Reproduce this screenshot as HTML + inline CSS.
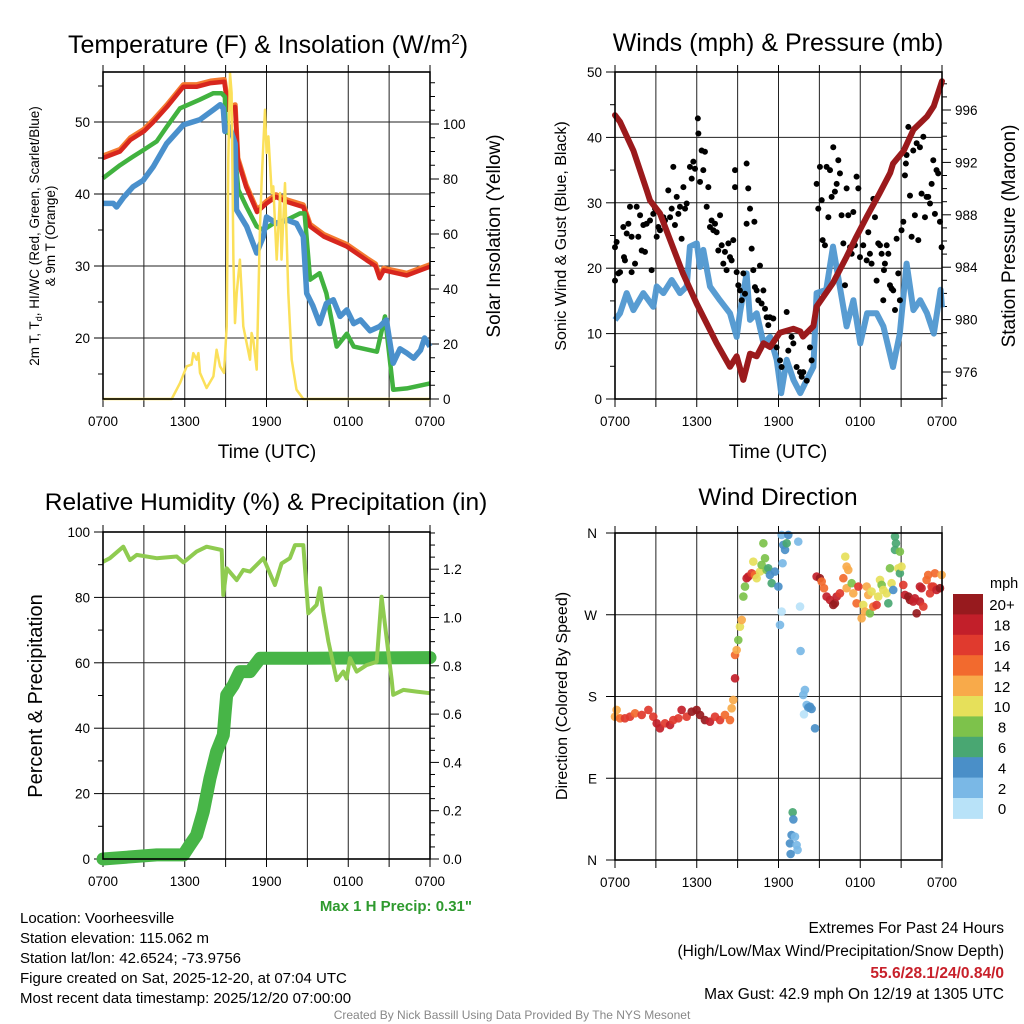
<!DOCTYPE html>
<html><head><meta charset="utf-8"><style>
html,body{margin:0;padding:0;background:#fff;}
svg{display:block;font-family:"Liberation Sans",Arial,sans-serif;}
</style></head><body>
<svg id="fig" width="1024" height="1024" viewBox="0 0 1024 1024" xmlns="http://www.w3.org/2000/svg">
<rect width="1024" height="1024" fill="#fff"/>
<g id="g1"></g>
<g id="g2"></g>
<g id="g3"></g>
<g id="g4"></g>
<text x="268" y="53" font-size="25" text-anchor="middle">Temperature (F) &amp; Insolation (W/m<tspan dy="-9" font-size="15">2</tspan><tspan dy="9">)</tspan></text>
<text x="778" y="51" font-size="25" text-anchor="middle">Winds (mph) &amp; Pressure (mb)</text>
<text x="266" y="510" font-size="24.5" text-anchor="middle">Relative Humidity (%) &amp; Precipitation (in)</text>
<text x="778" y="505" font-size="24.5" text-anchor="middle">Wind Direction</text>
<text x="267" y="458" font-size="19" text-anchor="middle">Time (UTC)</text>
<text x="778" y="458" font-size="19" text-anchor="middle">Time (UTC)</text>
<text transform="translate(39,236) rotate(-90)" font-size="13.5" text-anchor="middle">2m T, T<tspan font-size="9" dy="3">d</tspan><tspan dy="-3">, HI/WC (Red, Green, Scarlet/Blue)</tspan></text>
<text transform="translate(55,236) rotate(-90)" font-size="13.5" text-anchor="middle">&amp; 9m T (Orange)</text>
<text transform="translate(500,236) rotate(-90)" font-size="19" text-anchor="middle">Solar Insolation (Yellow)</text>
<text transform="translate(566,236) rotate(-90)" font-size="16" text-anchor="middle">Sonic Wind &amp; Gust (Blue, Black)</text>
<text transform="translate(1015,236) rotate(-90)" font-size="19" text-anchor="middle">Station Pressure (Maroon)</text>
<text transform="translate(42,696) rotate(-90)" font-size="20" text-anchor="middle">Percent &amp; Precipitation</text>
<text transform="translate(567,696) rotate(-90)" font-size="16" text-anchor="middle">Direction (Colored By Speed)</text>
<text x="472" y="911" font-size="15" font-weight="bold" fill="#2e9a2e" text-anchor="end">Max 1 H Precip: 0.31"</text>
<g font-size="15">
<text x="20" y="923">Location: Voorheesville</text>
<text x="20" y="943">Station elevation: 115.062 m</text>
<text x="20" y="963">Station lat/lon: 42.6524; -73.9756</text>
<text x="20" y="983">Figure created on Sat, 2025-12-20, at 07:04 UTC</text>
<text x="20" y="1003">Most recent data timestamp: 2025/12/20 07:00:00</text>
</g>
<g font-size="15.5" text-anchor="end">
<text x="1004" y="933">Extremes For Past 24 Hours</text>
<text x="1004" y="956">(High/Low/Max Wind/Precipitation/Snow Depth)</text>
<text x="1004" y="978" fill="#c8202a" font-weight="bold">55.6/28.1/24/0.84/0</text>
<text x="1004" y="999">Max Gust: 42.9 mph On 12/19 at 1305 UTC</text>
</g>
<text x="512" y="1019" font-size="12" fill="#888" text-anchor="middle">Created By Nick Bassill Using Data Provided By The NYS Mesonet</text>
</svg>
<script>
// ---------- data (hours since 0700 UTC) ----------
const timeLabels = ["0700","1300","1900","0100","0700"];
const tempH = [0,1.25,2,3,3.7,4.7,5.9,6.9,7.9,8.9,9.2,9.7,9.9,10.5,11.3,12,12.7,13.5,14.7,15.2,16.2,17.9,19.35,20.0,20.3,20.6,22.3,24];
const tempT = [45,45.9,47.5,48.7,50,52.1,54.9,54.9,55.4,55.6,51.7,52.1,44.7,41,37.5,38.7,39.6,38.9,38.2,35.5,34.1,32.7,30.8,30.0,28.3,29.4,28.7,29.9];
const dewH = [0,1.25,2.2,2.96,3.94,4.67,5.65,7.1,8.1,8.7,8.95,9.0,9.57,9.93,10.54,11.28,11.77,12.5,13.5,14.46,14.8,15.2,15.9,16.4,17.15,17.9,18.4,20.1,20.7,21.3,22.3,24];
const dewT = [42.2,44.0,45.2,46.1,47.3,49.3,51.9,53.1,54.0,54.0,53.5,48.7,48.0,40.6,38.2,35.5,35.0,35.9,36.4,37.3,37.3,28.1,29.0,26.2,18.8,20.6,18.8,18.1,23.0,12.8,13.0,13.7];
const wcH = [0,0.76,1.0,1.5,2.2,2.96,3.69,4.67,5.9,7.1,8.1,8.6,8.83,8.95,9.3,9.7,9.8,10.54,11.28,11.77,12.0,12.75,13.5,14.2,14.7,14.95,15.4,15.9,16.4,16.9,17.4,17.9,18.4,18.9,19.6,20.3,20.8,21.3,21.8,22.3,22.8,23.3,23.6,24];
const wcT = [38.7,38.7,38.2,39.5,41.0,41.9,43.8,47.0,49.6,50.3,51.7,52.4,51.9,48.7,49.3,47.0,37.8,35.5,31.8,34.1,36.8,35.9,36.4,35.9,34.1,26.2,24.5,22.0,24.8,25.3,23.0,23.9,22.0,22.5,21.0,21.6,22.5,16.5,18.5,17.9,17.2,18.3,20.0,18.8];
const solH = [0,5.04,5.65,6.14,6.5,6.63,6.87,7.0,7.12,7.6,8.1,8.34,8.59,8.88,9.08,9.2,9.32,9.44,9.57,9.69,9.81,9.93,10.05,10.18,10.3,10.54,10.79,10.91,11.03,11.28,11.52,11.65,11.77,11.89,12.01,12.14,12.38,12.5,12.75,13.0,13.1,13.36,13.6,13.85,14.2,14.7,24];
const solV = [0,0,5.8,11.9,12.5,16.7,14.3,16.7,9.5,4.0,8.2,17.9,11.9,9.5,26.4,87.0,118.5,111.3,50.7,27.6,38.5,44.6,50.7,38.5,26.4,20.4,14.3,24.0,21.6,10.7,62.8,79.8,93.1,105.2,89.5,95.5,74.9,77.3,50.7,74.9,50.7,78.5,38.5,14.3,3.4,0,0];
const presH = [0,0.37,1.35,2.32,2.57,3.3,4.04,5.0,6.0,6.73,7.46,8.44,8.93,9.42,9.91,10.4,10.9,11.38,12.1,13.1,13.6,13.8,14.56,14.8,16.0,17.0,17.7,18.5,19.4,20.2,20.4,21.2,21.9,22.9,23.4,24];
const presP = [995.6,995.1,992.9,989.9,989.1,988.1,986.1,983.5,981.2,979.7,978.2,976.4,977.2,975.4,977.4,977.2,978.2,977.9,979.0,979.3,979.1,978.7,979.5,981.0,982.8,984.8,986.3,987.9,989.6,991.2,991.9,992.9,994.5,995.5,996.3,998.2];
const windH = [0,0.37,0.86,1.35,2.08,2.81,3.06,3.55,4.16,4.77,5.26,5.5,6.0,6.24,6.48,6.97,7.7,8.44,8.93,9.17,9.66,9.91,10.4,10.9,11.38,11.87,12.2,12.6,13.1,13.6,14.07,14.56,14.8,15.5,16.0,16.5,17.0,17.5,18.0,18.5,19.2,19.7,20.4,20.9,21.4,21.9,22.4,22.9,23.4,23.9,24];
const windV = [12.1,13.1,16.2,13.6,16.2,14.1,17.2,16.2,18.2,16.2,17.2,23.3,23.8,20.2,22.8,17.2,15.1,13.1,9.5,13.1,19.2,12.1,13.1,8.5,9.5,6.0,0.9,6.0,2.9,0.9,2.9,4.9,16.2,16.7,23.3,17.2,11.1,15.1,8.5,13.1,13.1,11.1,4.9,10.0,20.7,13.6,15.1,13.1,10.0,16.7,14.0];
const gustH = [0,0,0.12,0.25,0.37,0.61,0.66,0.73,0.86,0.98,1.1,1.22,1.22,1.47,1.59,1.71,1.84,1.96,2.08,2.2,2.32,2.57,2.69,2.81,2.94,3.06,3.18,3.3,3.55,3.67,3.91,4.04,4.16,4.28,4.4,4.53,4.65,4.77,4.89,5.02,5.14,5.26,5.5,5.63,5.75,5.87,6.08,6.12,6.24,6.36,6.48,6.6,6.73,6.85,6.97,7.09,7.22,7.34,7.46,7.58,7.71,7.83,7.95,8.07,8.19,8.32,8.44,8.56,8.68,8.81,8.81,8.93,9.05,9.17,9.3,9.42,9.54,9.66,9.66,9.78,9.91,10.03,10.15,10.23,10.27,10.4,10.52,10.64,10.76,10.89,11.01,11.13,11.25,11.37,11.62,11.86,12.11,12.23,12.6,12.72,12.96,13.09,13.33,13.58,13.7,13.82,14.07,14.31,14.43,14.8,14.92,15.04,15.17,15.24,15.41,15.53,15.66,15.78,15.9,16.02,16.14,16.27,16.39,16.51,16.63,16.76,16.88,17.0,17.12,17.25,17.37,17.49,17.61,17.73,17.86,17.98,18.22,18.47,18.59,18.71,18.83,18.96,19.08,19.2,19.32,19.45,19.57,19.69,19.74,19.81,19.94,20.06,20.18,20.3,20.42,20.55,20.67,20.79,20.91,21.03,21.16,21.28,21.35,21.4,21.53,21.65,21.77,21.89,22.01,22.14,22.26,22.38,22.5,22.63,22.75,22.87,22.99,23.12,23.24,23.36,23.48,23.6,23.72,23.85,23.97];
const gustV = [23.2,18.1,24.0,19.2,19.4,26.3,21.7,21.2,25.3,26.8,29.4,24.8,19.4,20.7,29.4,24.8,28.1,22.7,26.6,22.5,26.8,27.3,19.7,28.3,29.1,24.8,26.3,25.8,27.8,27.3,31.9,27.8,29.1,35.5,26.6,30.9,28.3,29.4,24.5,32.4,29.1,29.9,35.5,33.7,36.3,35.2,42.9,40.6,33.2,38.0,35.0,37.8,29.4,32.4,26.3,27.3,25.8,26.8,25.5,22.7,28.1,23.5,20.7,22.5,19.7,23.8,21.7,21.2,24.3,35.0,32.4,19.4,17.4,16.6,15.1,19.2,16.1,26.8,36.0,32.2,29.1,23.0,19.7,27.1,17.1,16.6,15.1,20.4,14.6,16.6,13.8,12.5,11.3,12.5,12.3,7.9,5.9,4.9,13.3,7.4,9.5,8.5,4.9,4.1,3.4,4.1,2.8,7.9,5.9,32.9,29.1,35.5,30.4,24.3,23.5,35.5,27.8,35.0,30.9,38.5,31.7,32.9,36.5,34.5,28.1,23.8,17.4,32.2,28.1,23.2,22.2,28.6,23.5,34.0,32.2,21.7,23.5,21.2,25.5,22.2,20.7,30.6,27.8,18.1,23.8,23.5,22.2,15.1,19.7,20.7,23.5,22.2,17.4,16.9,16.6,13.6,24.5,19.2,15.1,25.8,27.1,34.2,36.0,37.3,41.6,31.1,24.8,38.0,28.1,39.1,24.3,38.5,31.4,40.1,27.8,30.9,30.9,29.9,32.9,36.5,28.3,35.0,34.5,27.1,23.2];
const rhH = [0,0.51,1.49,1.98,2.47,3.94,5.41,5.9,6.87,7.6,8.71,8.83,9.08,9.81,10.3,10.79,11.77,12.62,13.11,13.72,14.09,14.7,15.07,15.68,15.93,16.17,16.54,17.15,17.64,17.88,18.13,18.62,19.35,20.09,20.45,20.7,21.19,21.3,22.04,23.02,24];
const rhV = [90.9,92.0,95.5,91.4,93.0,92.0,92.5,90.7,94.0,95.5,94.5,80.7,88.9,85.3,88.4,87.9,92.0,83.8,90.4,92.0,96.0,96.0,75.1,77.7,82.8,75.6,66.5,54.7,57.3,55.2,61.4,57.3,59.3,60.3,80.2,71.6,54.7,50.2,51.7,51.2,50.7];
const prH = [0,3.94,5.9,6.38,6.87,7.36,7.85,8.34,8.83,8.95,9.08,9.57,10.05,10.79,11.53,14.7,24];
const prV = [0,0.017,0.017,0.058,0.099,0.196,0.334,0.444,0.513,0.596,0.679,0.72,0.776,0.776,0.831,0.831,0.834];
const dirH = [0,0.12,0.37,0.73,1.1,1.47,1.96,2.45,2.81,3.06,3.3,3.67,4.04,4.28,4.65,4.89,5.26,5.63,5.99,6.24,6.6,6.97,7.34,7.71,8.07,8.44,8.56,8.68,8.81,8.81,8.93,9.05,9.17,9.3,9.42,9.54,9.66,9.78,10.03,10.15,10.27,10.4,10.64,10.76,10.89,11.01,11.13,11.25,11.37,11.5,11.74,11.99,12.23,12.35,12.48,12.6,12.72,12.3,12.23,12.11,13.45,13.58,13.62,13.82,13.94,14.07,14.19,14.31,14.43,13.87,14.68,13.04,13.09,12.96,13.21,12.84,13.33,13.4,12.89,14.8,15.04,15.17,15.34,15.53,15.78,16.02,16.14,16.27,16.51,16.76,17.0,16.9,17.0,17.12,17.37,17.49,17.73,17.86,18.22,18.47,18.35,18.1,18.59,18.71,18.83,18.96,19.2,19.32,19.45,19.57,19.69,19.94,20.06,20.18,20.3,20.42,20.55,20.62,20.55,20.91,20.79,20.91,21.03,21.16,21.28,21.53,21.65,21.89,22.14,22.38,22.63,22.5,22.87,22.99,23.12,23.24,23.36,23.48,23.6,23.85,23.97,22.38,22.01];
const dirV = [157.8,165.2,156,156,157.8,161.5,159.7,165.2,157.8,150.5,145,150.5,148.6,154.1,156,165.2,157.8,163.3,165.2,159.7,154.1,152.3,157.8,154.1,159.7,154.1,167,176.2,200,225.7,231.2,242.2,256.9,264.3,290,301,310.2,312,315.7,328.5,313.8,310.2,317.5,324.8,348.7,332.2,319.3,321.2,313.8,304.7,317.5,301,357.9,346.9,341.4,348.7,357.9,326.7,273.5,258.8,350.5,279,230.1,181.7,187.2,170.7,167.7,168.8,166.3,160.4,145,52.5,44.7,27.5,25.7,18.3,16.5,11,6.6,312,310.2,306.5,299.2,290,286.3,280.8,282.6,290,293.6,310.2,299.2,334,323,319.3,304.7,293.6,282.6,301,280.8,301,273.5,266.1,291.8,271.6,295.5,279,280.8,290,308.3,302.8,297.3,293.6,282.6,321.2,304.7,297.3,356.1,348.7,341.4,339.5,321.2,315.7,323,302.8,291.8,290,286.3,284.5,271.6,284.5,279,299.2,308.3,313.8,293.6,301,301,315.7,297.3,299.2,313.8,301,288.1];
const dirS = [12,12,14,16,16,14,16,16,16,18,18,16,18,16,16,18,16,20,20,20,20,18,16,16,14,14,12,12,18,14,12,8,10,12,8,8,18,18,16,10,14,10,10,8,8,8,8,6,4,6,4,4,2,4,4,6,4,2,1,3,2,1,2,3,3,3,4,4,4,1,4,6,4,4,2,4,2,2,4,18,20,14,14,18,18,20,20,18,16,14,12,10,12,12,8,12,14,16,10,12,12,12,12,8,10,14,16,10,10,8,10,10,6,8,10,4,6,6,6,8,10,6,10,16,18,20,20,18,20,18,16,18,14,14,16,16,16,14,18,20,12,18,18];
const speedColors = ["#b8e2f8","#7ab8e6","#4a8fc8","#49a772","#7dc24b","#e6e05a","#f8aa4a","#f26a2e","#e03a2e","#c21f2a","#971a1e"];
const speedLabels = ["0","2","4","6","8","10","12","14","16","18","20+"];
const dirLabels = ["N","E","S","W","N"];

// ---------- helpers ----------
const NS="http://www.w3.org/2000/svg";
function mk(tag,attrs,parent){const e=document.createElementNS(NS,tag);for(const k in attrs)e.setAttribute(k,attrs[k]);parent.appendChild(e);return e;}
function lin(d0,d1,r0,r1){return v=>r0+(v-d0)*(r1-r0)/(d1-d0);}
function polyPts(xs,ys,fx,fy){return xs.map((h,i)=>fx(h).toFixed(1)+","+fy(ys[i]).toFixed(1)).join(" ");}

function frame(g,L,R,T,B){
  const fx=lin(0,24,L,R);
  for(let h=0;h<=24;h+=3){
    const x=fx(h);
    if(h>0&&h<24){const gl=mk("line",{x1:x,y1:T,x2:x,y2:B,stroke:"#222","stroke-width":1},g);
      
      }
    mk("line",{x1:x,y1:B,x2:x,y2:B+8,stroke:"#000","stroke-width":1},g);
    mk("line",{x1:x,y1:T,x2:x,y2:T-7,stroke:"#000","stroke-width":1},g);
  }
  for(let i=0;i<timeLabels.length;i++){
    const t=mk("text",{x:fx(i*6),y:B+27,"font-size":13.5,"text-anchor":"middle"},g);
    t.textContent=timeLabels[i];
    
    
  }
  return fx;
}
function hgrid(g,L,R,y){const l=mk("line",{x1:L,y1:y,x2:R,y2:y,stroke:"#222","stroke-width":1},g);
  
  }
function yTicks(g,side,X,fy,lo,hi,major,minor,fmt,labelled){
  const dir=side==="left"?-1:1;
  for(let v=lo;v<=hi+1e-9;v+=minor){
    const y=fy(v);const isMaj=Math.abs(v/major-Math.round(v/major))<1e-6;
    mk("line",{x1:X,y1:y,x2:X+dir*(isMaj?9:5),y2:y,stroke:"#000","stroke-width":1},g);
    if(isMaj&&labelled){
      const t=mk("text",{x:X+dir*13,y:y+5,"font-size":13.5,"text-anchor":side==="left"?"end":"start"},g);
      t.textContent=fmt(v);
      
      
    }
  }
}
function border(g,L,R,T,B){const r=mk("rect",{x:L,y:T,width:R-L,height:B-T,fill:"none",stroke:"#000","stroke-width":1.6},g);
  
  }

// ---------- panel 1 ----------
(function(){
  const g=document.getElementById("g1");const L=103,R=430,T=72,B=399;
  const fy=lin(50,20,122,338), fs=lin(0,100,399,124);
  [20,30,40,50].forEach(v=>hgrid(g,L,R,fy(v)));
  const fx=frame(g,L,R,T,B);
  yTicks(g,"left",L,fy,15,55,10,5,v=>v,true);
  yTicks(g,"right",R,fs,0,115,20,5,v=>v,true);
  const o=mk("polyline",{points:polyPts(tempH,tempT.map(v=>v+0.3),fx,fy),fill:"none",stroke:"#f47a30","stroke-width":5,"stroke-linejoin":"round"},g);
  
  
  const r=mk("polyline",{points:polyPts(tempH,tempT,fx,fy),fill:"none",stroke:"#d7261e","stroke-width":4.5,"stroke-linejoin":"round"},g);
  
  
  const gr=mk("polyline",{points:polyPts(dewH,dewT,fx,fy),fill:"none",stroke:"#41b23f","stroke-width":4.5,"stroke-linejoin":"round"},g);
  
  
  const b=mk("polyline",{points:polyPts(wcH,wcT,fx,fy),fill:"none",stroke:"#4a90cc","stroke-width":5.5,"stroke-linejoin":"round"},g);
  
  
  const s=mk("polyline",{points:polyPts(solH,solV,fx,fs),fill:"none",stroke:"#fbe05a","stroke-width":2.5,"stroke-linejoin":"round"},g);
  
  
  border(g,L,R,T,B);
})();

// ---------- panel 2 ----------
(function(){
  const g=document.getElementById("g2");const L=615,R=942,T=72,B=399;
  const fy=lin(0,50,399,72), fp=lin(996,976,110,372);
  [10,20,30,40].forEach(v=>hgrid(g,L,R,fy(v)));
  const fx=frame(g,L,R,T,B);
  yTicks(g,"left",L,fy,0,50,10,5,v=>v,true);
  yTicks(g,"right",R,fp,974,998,4,1,v=>v,true);
  const w=mk("polyline",{points:polyPts(windH,windV,fx,fy),fill:"none",stroke:"#4f97d0","stroke-width":6,"stroke-linejoin":"round","stroke-opacity":0.95},g);
  
  
  for(let i=0;i<gustH.length;i++){
    const c=mk("circle",{cx:fx(gustH[i]),cy:fy(gustV[i]),r:3,fill:"#000"},g);
    
    
  }
  const p=mk("polyline",{points:polyPts(presH,presP,fx,fp),fill:"none",stroke:"#9b1a1c","stroke-width":6,"stroke-linejoin":"round","stroke-linecap":"round"},g);
  
  
  border(g,L,R,T,B);
})();

// ---------- panel 3 ----------
(function(){
  const g=document.getElementById("g3");const L=103,R=430,T=532,B=859;
  const fy=lin(0,100,859,532), fp=lin(0,1,859,617.5);
  [20,40,60,80].forEach(v=>hgrid(g,L,R,fy(v)));
  const fx=frame(g,L,R,T,B);
  yTicks(g,"left",L,fy,0,100,20,10,v=>v,true);
  yTicks(g,"right",R,fp,0,1.35,0.2,0.05,v=>v.toFixed(1),true);
  const pr=mk("polyline",{points:polyPts(prH,prV,fx,fp),fill:"none",stroke:"#47b547","stroke-width":13,"stroke-linejoin":"round","stroke-linecap":"round"},g);
  
  
  const rh=mk("polyline",{points:polyPts(rhH,rhV,fx,fy),fill:"none",stroke:"#8fcb50","stroke-width":4,"stroke-linejoin":"round"},g);
  
  
  border(g,L,R,T,B);
})();

// ---------- panel 4 ----------
(function(){
  const g=document.getElementById("g4");const L=615,R=942,T=533,B=860;
  const fy=lin(0,360,860,533);
  [90,180,270].forEach(v=>hgrid(g,L,R,fy(v)));
  const fx=frame(g,L,R,T,B);
  for(let i=0;i<dirLabels.length;i++){
    const y=fy(i*90);
    mk("line",{x1:L,y1:y,x2:L-9,y2:y,stroke:"#000","stroke-width":1},g);
    const t=mk("text",{x:L-18,y:y+5,"font-size":13.5,"text-anchor":"end"},g);
    t.textContent=dirLabels[i];
    
    
  }
  for(let i=0;i<dirH.length;i++){
    const idx=Math.min(10,Math.floor(dirS[i]/2));
    const c=mk("circle",{cx:fx(dirH[i]),cy:fy(dirV[i]),r:4.3,fill:speedColors[idx],"fill-opacity":0.92},g);
    
    
  }
  border(g,L,R,T,B);
  const cb=mk("g",{},g);
  
  
  const top=594,bh=20.4;
  const u=mk("text",{x:990,y:588,"font-size":14.5},cb);u.textContent="mph";
  
  
  for(let k=0;k<11;k++){
    const idx=10-k;const y=top+k*bh;
    const r=mk("rect",{x:953,y:y,width:30,height:bh+0.5,fill:speedColors[idx]},cb);
    
    
    const t=mk("text",{x:1002,y:y+bh/2+6,"font-size":15,"text-anchor":"middle"},cb);
    t.textContent=speedLabels[idx];
    
    
  }
})();
</script>
</body></html>
